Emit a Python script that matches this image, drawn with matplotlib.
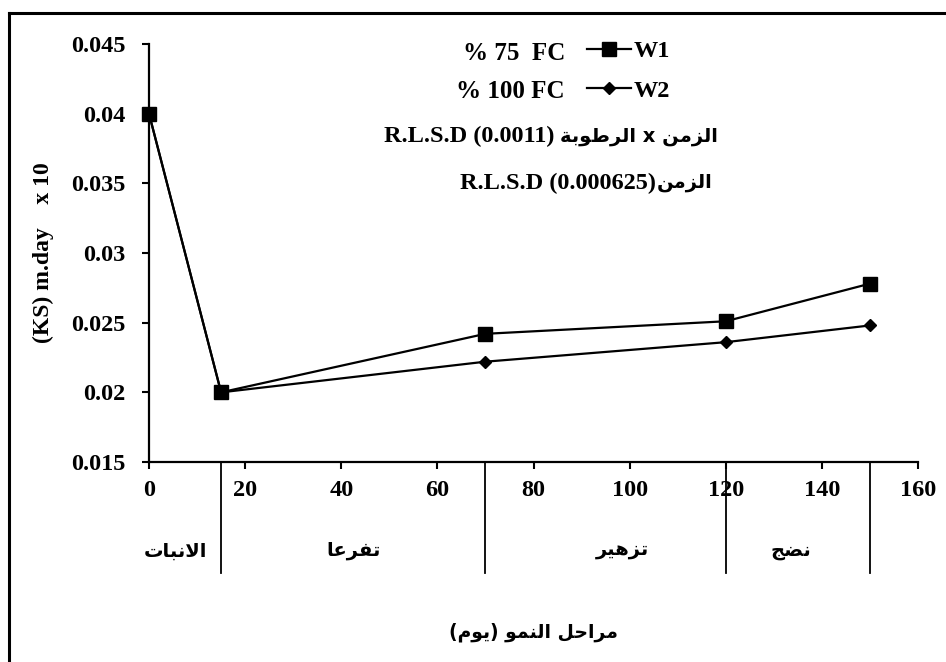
import matplotlib
matplotlib.use("Agg")
import matplotlib.pyplot as plt
from matplotlib.lines import Line2D
import matplotlib.transforms as mtransforms

# ---------------- data ----------------
days = [0, 15, 70, 120, 150]
w1 = [0.040, 0.0200, 0.0242, 0.0251, 0.0278]
w2 = [0.040, 0.0200, 0.0222, 0.0236, 0.0248]
series_labels = ["W1", "W2"]
treatment_labels = ["% 75  FC", "% 100 FC"]
y_ticks = [0.015, 0.02, 0.025, 0.03, 0.035, 0.04, 0.045]
x_ticks = [0, 20, 40, 60, 80, 100, 120, 140, 160]
stage_names = ["الانبات", "تفرعا", "تزهير", "نضج"]
stage_bounds = [0, 15, 70, 120, 150]
x_title = "مراحل النمو (يوم)"
y_title = "(KS) m.day    x 10"
lsd1_value = "R.L.S.D (0.0011) "
lsd1_arabic = "الزمن x الرطوبة"
lsd2_value = "R.L.S.D (0.000625)"
lsd2_arabic = "الزمن"

# ---------------- simple Arabic shaping (matplotlib has no shaper) ----------------
FORMS = {
    'ا': (0xFE8D, 0xFE8E, None, None),
    'ب': (0xFE8F, 0xFE90, 0xFE91, 0xFE92),
    'ة': (0xFE93, 0xFE94, None, None),
    'ت': (0xFE95, 0xFE96, 0xFE97, 0xFE98),
    'ج': (0xFE9D, 0xFE9E, 0xFE9F, 0xFEA0),
    'ح': (0xFEA1, 0xFEA2, 0xFEA3, 0xFEA4),
    'ر': (0xFEAD, 0xFEAE, None, None),
    'ز': (0xFEAF, 0xFEB0, None, None),
    'ض': (0xFEBD, 0xFEBE, 0xFEBF, 0xFEC0),
    'ط': (0xFEC1, 0xFEC2, 0xFEC3, 0xFEC4),
    'ع': (0xFEC9, 0xFECA, 0xFECB, 0xFECC),
    'ف': (0xFED1, 0xFED2, 0xFED3, 0xFED4),
    'ل': (0xFEDD, 0xFEDE, 0xFEDF, 0xFEE0),
    'م': (0xFEE1, 0xFEE2, 0xFEE3, 0xFEE4),
    'ن': (0xFEE5, 0xFEE6, 0xFEE7, 0xFEE8),
    'ه': (0xFEE9, 0xFEEA, 0xFEEB, 0xFEEC),
    'و': (0xFEED, 0xFEEE, None, None),
    'ي': (0xFEF1, 0xFEF2, 0xFEF3, 0xFEF4),
    'LA': (0xFEFB, 0xFEFC, None, None),
}


def shape(text):
    toks = []
    i = 0
    while i < len(text):
        if text[i] == 'ل' and i + 1 < len(text) and text[i + 1] == 'ا':
            toks.append('LA')
            i += 2
        else:
            toks.append(text[i])
            i += 1
    out = []
    for k, c in enumerate(toks):
        if c not in FORMS:
            out.append(c)
            continue
        f = FORMS[c]
        prev = k > 0 and toks[k - 1] in FORMS and FORMS[toks[k - 1]][2] is not None
        nxt = (k + 1 < len(toks) and toks[k + 1] in FORMS and f[2] is not None)
        if prev and nxt:
            code = f[3]
        elif prev:
            code = f[1]
        elif nxt:
            code = f[2]
        else:
            code = f[0]
        out.append(chr(code))
    return ''.join(out)


def rtl(text):
    s = shape(text)[::-1]
    return s.translate(str.maketrans({'(': ')', ')': '('}))


# ---------------- figure ----------------
W, H = 946, 662
plt.rcParams['font.family'] = ['Liberation Serif', 'DejaVu Sans']
plt.rcParams['font.weight'] = 'bold'
AR = ['DejaVu Sans']

fig = plt.figure(figsize=(W / 100, H / 100), dpi=100)
ax = fig.add_axes([149 / W, 1 - 462 / H, (918 - 149) / W, (462 - 44) / H])

l1, = ax.plot(days, w1, color='black', lw=1.6, marker='s', ms=9.5, clip_on=False, zorder=3)
l2, = ax.plot(days, w2, color='black', lw=1.6, marker='D', ms=6.5, clip_on=False, zorder=2)

ax.set_xlim(0, 160)
ax.set_ylim(0.015, 0.045)
ax.set_xticks(x_ticks)
ax.set_xticklabels([str(v) for v in x_ticks])
ax.set_yticks(y_ticks)
ax.set_yticklabels([f"{v:g}" for v in y_ticks])
for sp in ['top', 'right']:
    ax.spines[sp].set_visible(False)
for sp in ['left', 'bottom']:
    ax.spines[sp].set_linewidth(1.6)
ax.tick_params(direction='out', length=5, width=1.5, labelsize=17.5)
ax.tick_params(axis='y', pad=12)
ax.tick_params(axis='x', pad=8)
for lab in ax.get_xticklabels() + ax.get_yticklabels():
    lab.set_fontweight('bold')

ax.set_ylabel(y_title, fontsize=17, fontweight='bold', labelpad=12)

# stage separators and names
trans = mtransforms.blended_transform_factory(ax.transData, ax.transAxes)
for b in stage_bounds[1:]:
    ax.plot([b, b], [0, -0.2656], transform=trans, color='black', lw=1.3, clip_on=False)
label_shift = [-2.0, 0.0, 3.5, -1.5]
for k, name in enumerate(stage_names):
    mid = (stage_bounds[k] + stage_bounds[k + 1]) / 2 + label_shift[k]
    ax.text(mid, -(551 - 462) / 418, rtl(name), transform=trans, ha='center', va='center',
            fontsize=14, fontweight='bold', family=AR)

ax.text(0.5, -(632 - 462) / 418, rtl(x_title), transform=ax.transAxes, ha='center',
        va='center', fontsize=13.5, fontweight='bold', family=AR)

# legend
ax.legend([l1, l2], series_labels, loc='upper left',
          bbox_to_anchor=((587 - 149) / 769, (462 - 40) / 418),
          frameon=False, handlelength=1.8, handletextpad=0.12, labelspacing=0.72,
          borderpad=0, borderaxespad=0,
          prop={'family': 'Liberation Serif', 'weight': 'bold', 'size': 17.5})

for txt, y in zip(treatment_labels, [53, 92]):
    fig.text(565 / W, 1 - y / H, txt, ha='right', va='center', fontsize=18, fontweight='bold')


# R.L.S.D lines (Latin part + Arabic part)
def mixed_line(x_right, y, latin, arabic):
    t_ar = fig.text(x_right / W, 1 - y / H, rtl(arabic), ha='right', va='center',
                    fontsize=14, fontweight='bold', family=AR)
    fig.canvas.draw()
    bb = t_ar.get_window_extent()
    fig.text(bb.x0 / fig.bbox.width, 1 - y / H, latin, ha='right', va='center',
             fontsize=17.5, fontweight='bold')


mixed_line(718, 136, lsd1_value, lsd1_arabic)
mixed_line(712, 183, lsd2_value, lsd2_arabic)

# outer frame (top and left edges visible)
fig.add_artist(Line2D([9 / W, 1.0], [1 - 13 / H, 1 - 13 / H], transform=fig.transFigure,
                      color='black', lw=2.2))
fig.add_artist(Line2D([9 / W, 9 / W], [0.0, 1 - 13 / H], transform=fig.transFigure,
                      color='black', lw=2.2))

fig.savefig('out.png', dpi=100)
